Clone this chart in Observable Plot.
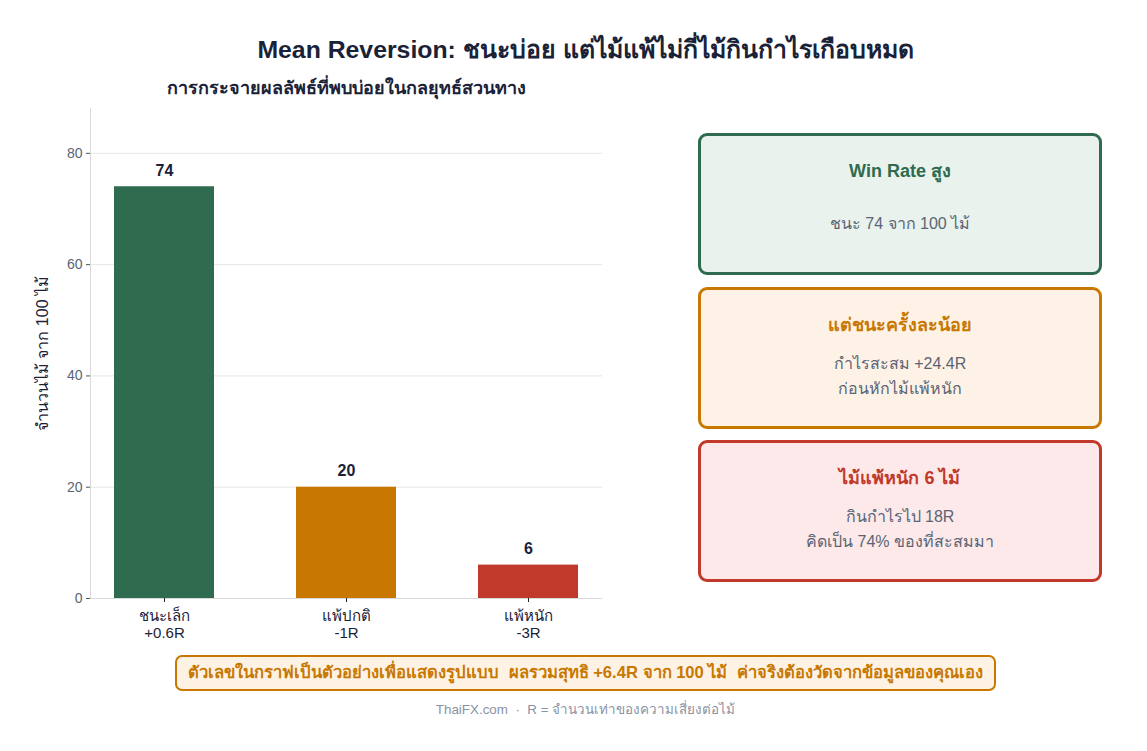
<!DOCTYPE html>
<html><head><meta charset="utf-8">
<script src="https://cdn.jsdelivr.net/npm/d3@7"></script>
<script src="https://cdn.jsdelivr.net/npm/@observablehq/plot@0.6"></script>
<style>
html,body{margin:0;padding:0;background:#fff;}
body{width:1147px;height:751px;position:relative;overflow:hidden;font-family:"Liberation Sans","Noto Sans",sans-serif;}
.abs{position:absolute;}
#title{left:24px;width:1123px;top:30px;text-align:center;font-size:24.8px;font-weight:bold;color:#1a2238;}
#subtitle{left:90px;width:512px;top:73px;text-align:center;font-size:18px;font-weight:bold;color:#1a2238;}
#chart{left:0;top:100px;}
.panel{position:absolute;left:698px;width:398px;height:136px;border:3px solid;border-radius:9px;text-align:center;box-sizing:content-box;}
.panel .h{font-weight:bold;font-size:18px;margin-top:20px;}
.panel .b{font-size:16px;color:#5a6475;line-height:25px;}
#note{left:175px;top:655px;width:817px;height:32px;border:2px solid #c87800;border-radius:7px;background:#fdf2e4;color:#c87800;font-weight:bold;font-size:16.6px;text-align:center;line-height:32px;white-space:pre;}
#foot{left:0;width:1171px;top:699px;text-align:center;font-size:13.4px;color:#8a93a3;white-space:pre;}
</style></head>
<body>
<div id="title" class="abs"></div>
<div id="subtitle" class="abs"></div>
<div id="chart" class="abs"></div>
<div id="panels"></div>
<div id="note" class="abs"></div>
<div id="foot" class="abs"></div>
<script>
const titleText = "Mean Reversion: ชนะบ่อย แต่ไม้แพ้ไม่กี่ไม้กินกำไรเกือบหมด";
const subtitleText = "การกระจายผลลัพธ์ที่พบบ่อยในกลยุทธ์สวนทาง";
const categories = ["ชนะเล็ก\n+0.6R", "แพ้ปกติ\n-1R", "แพ้หนัก\n-3R"];
const counts = [74, 20, 6];
const barColors = ["#2e6b4f", "#c87800", "#c0392b"];
const yTicks = [0, 20, 40, 60, 80];
const yLabel = "จำนวนไม้ จาก 100 ไม้";
const panelTitles = ["Win Rate สูง", "แต่ชนะครั้งละน้อย", "ไม้แพ้หนัก 6 ไม้"];
const panelBodies = [["ชนะ 74 จาก 100 ไม้"], ["กำไรสะสม +24.4R", "ก่อนหักไม้แพ้หนัก"], ["กินกำไรไป 18R", "คิดเป็น 74% ของที่สะสมมา"]];
const panelBorders = ["#2e6b4f", "#c87800", "#c0392b"];
const panelFills = ["#e9f2ec", "#fdf2e5", "#fde9e9"];
const panelTops = [133, 287, 440];
const noteText = "ตัวเลขในกราฟเป็นตัวอย่างเพื่อแสดงรูปแบบ  ผลรวมสุทธิ +6.4R จาก 100 ไม้  ค่าจริงต้องวัดจากข้อมูลของคุณเอง";
const footText = "ThaiFX.com  ·  R = จำนวนเท่าของความเสี่ยงต่อไม้";

document.getElementById("title").textContent = titleText;
document.getElementById("subtitle").textContent = subtitleText;
document.getElementById("note").textContent = noteText;
document.getElementById("foot").textContent = footText;

const data = categories.map((c, i) => ({cat: c, n: counts[i], color: barColors[i]}));

const chart = Plot.plot({
  width: 620, height: 560,
  marginLeft: 90, marginRight: 18, marginTop: 8, marginBottom: 62,
  style: {fontFamily: '"Liberation Sans","Noto Sans",sans-serif', fontSize: "14px", color: "#5a6475", background: "transparent"},
  x: {domain: categories, paddingInner: 0.452, paddingOuter: 0.128, label: null},
  y: {domain: [0, 74 * 1.19], ticks: yTicks, label: null},
  marks: [
    Plot.gridY(yTicks.filter(d => d > 0), {stroke: "#e6e6e6", strokeOpacity: 1}),
    Plot.barY(data, {x: "cat", y: "n", fill: "color"}),
    Plot.ruleY([0], {stroke: "#d9d9d9"}),
    Plot.frame({anchor: "left", stroke: "#d9d9d9"}),
    Plot.axisY({ticks: yTicks, tickSize: 4, tickPadding: 4, stroke: "#555", fill: "#5a6475", fontSize: 14, label: null}),
    Plot.axisX({tickSize: 4, tickPadding: 6, stroke: "#222", fill: "#1a2238", fontSize: 15, lineHeight: 1.15, label: null}),
    Plot.text(data, {x: "cat", y: "n", text: d => String(d.n), dy: -16, fontSize: 16, fontWeight: "bold", fill: "#1a2238"}),
    Plot.text([yLabel], {frameAnchor: "left", textAnchor: "middle", dx: -48, rotate: -90, fontSize: 16, fill: "#1a2238", text: d => d})
  ]
});
document.getElementById("chart").appendChild(chart);

const panels = document.getElementById("panels");
panelTitles.forEach((t, i) => {
  const p = document.createElement("div");
  p.className = "panel";
  p.style.top = panelTops[i] + "px";
  p.style.borderColor = panelBorders[i];
  p.style.background = panelFills[i];
  const h = document.createElement("div");
  h.className = "h"; h.textContent = t; h.style.color = panelBorders[i];
  p.appendChild(h);
  const b = document.createElement("div");
  b.className = "b";
  b.style.marginTop = panelBodies[i].length === 1 ? "26px" : "12px";
  panelBodies[i].forEach(line => { const l = document.createElement("div"); l.textContent = line; b.appendChild(l); });
  p.appendChild(b);
  panels.appendChild(p);
});
</script>
</body></html>
